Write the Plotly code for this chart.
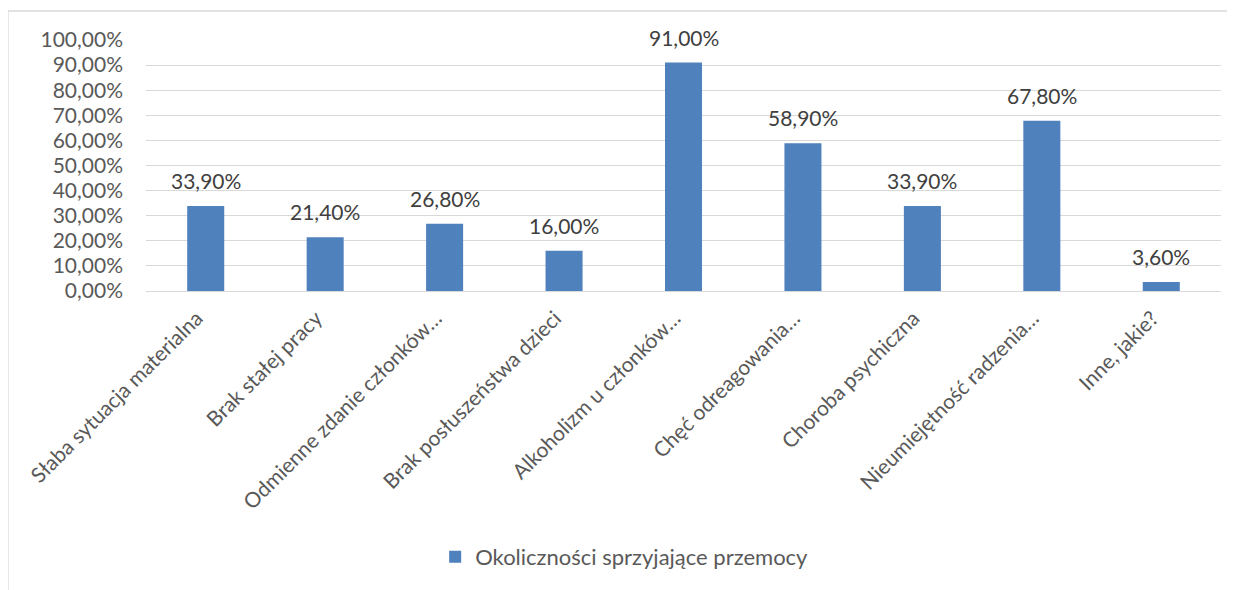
import plotly.graph_objects as go

categories = [
    "Słaba sytuacja materialna",
    "Brak stałej pracy",
    "Odmienne zdanie członków…",
    "Brak posłuszeństwa dzieci",
    "Alkoholizm u członków…",
    "Chęć odreagowania…",
    "Choroba psychiczna",
    "Nieumiejętność radzenia…",
    "Inne, jakie?",
]
values = [0.339, 0.214, 0.268, 0.160, 0.910, 0.589, 0.339, 0.678, 0.036]
series_name = "Okoliczności sprzyjające przemocy"
y_ticks = [0, 0.1, 0.2, 0.3, 0.4, 0.5, 0.6, 0.7, 0.8, 0.9, 1.0]

FONT = "Lato"
fig = go.Figure()
fig.add_trace(go.Bar(
    x=categories, y=values, name=series_name,
    marker=dict(color="#4f81bd", line=dict(width=0)),
    cliponaxis=False,
))

annotations = [
    dict(x=c, y=v, xref="x", yref="y", text=f"{v*100:.2f}%".replace(".", ","),
         showarrow=False, yanchor="bottom", yshift=11,
         font=dict(family=FONT, size=21, color="#404040"))
    for c, v in zip(categories, values)
]

fig.update_layout(
    width=1227, height=582,
    margin=dict(l=138, r=14, t=32, b=291),
    paper_bgcolor="white", plot_bgcolor="white",
    separators=",.",
    bargap=0.69,
    font=dict(family=FONT, size=21, color="#595959"),
    showlegend=True,
    legend=dict(orientation="h", x=0.269, xanchor="left", y=-1.06, yanchor="middle",
                font=dict(family=FONT, size=22, color="#595959"), itemwidth=30),
    xaxis=dict(tickangle=-45, showgrid=False, showline=False, ticks="", automargin=False,
               ticklabelstandoff=10, ticklabelshift=-9,
               tickfont=dict(family=FONT, size=21, color="#595959")),
    yaxis=dict(range=[0, 1.0], tickvals=y_ticks, tickformat=".2%", automargin=False,
               showgrid=True, gridcolor="#d9d9d9", gridwidth=1.3,
               zeroline=True, zerolinecolor="#d9d9d9", zerolinewidth=1.3,
               showline=False, ticks="", ticklen=0, ticklabelstandoff=22,
               tickfont=dict(family=FONT, size=21, color="#595959")),
    annotations=annotations,
    shapes=[dict(type="rect", xref="paper", yref="paper",
                 x0=-0.1284, x1=1.08, y0=-2.0, y1=1.1155,
                 line=dict(color="#d9d9d9", width=1.3), layer="below")],
)

fig.write_html("out.html")
